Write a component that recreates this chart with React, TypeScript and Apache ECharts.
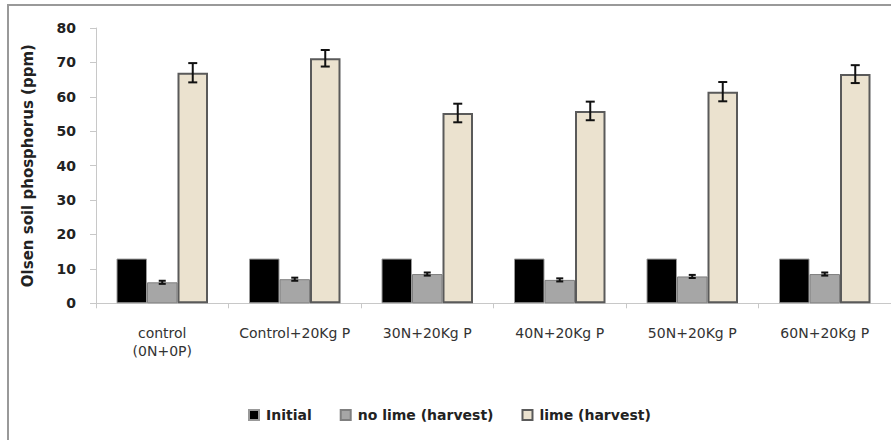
import React, { useEffect, useRef } from "react";
import * as echarts from "echarts";

const categories = ["control\n(0N+0P)", "Control+20Kg P", "30N+20Kg P", "40N+20Kg P", "50N+20Kg P", "60N+20Kg P"];
const seriesNames = ["Initial", "no lime (harvest)", "lime (harvest)"];
const initial = [13, 13, 13, 13, 13, 13];
const noLime = [6.1, 7.0, 8.5, 6.8, 7.8, 8.5];
const noLimeErr = [0.45, 0.45, 0.45, 0.45, 0.45, 0.45];
const lime = [67.0, 71.2, 55.3, 55.9, 61.5, 66.6];
const limeErr = [2.8, 2.4, 2.7, 2.7, 2.8, 2.6];
const yMin = 0;
const yMax = 80;
const yInterval = 10;

const FONT = "'DejaVu Sans', 'Open Sans', sans-serif";

export default function App() {
  const ref = useRef<HTMLDivElement>(null);
  useEffect(() => {
    if (!ref.current) return;
    const chart = echarts.init(ref.current, undefined, { renderer: "svg" });
    const errData = (vals: number[], errs: number[], seriesIdx: number) =>
      vals.map((v, i) => [i, v - errs[i], v + errs[i], seriesIdx]);
    const barW = 30.5;
    const renderErr = (capHalf: number) => (params: any, api: any) => {
      const i = api.value(0);
      const lo = api.coord([i, api.value(1)]);
      const hi = api.coord([i, api.value(2)]);
      const s = api.value(3);
      const x = lo[0] + (s - 1) * barW;
      const style = { stroke: "#111", lineWidth: 2 };
      return {
        type: "group",
        children: [
          { type: "line", shape: { x1: x, y1: hi[1], x2: x, y2: lo[1] }, style },
          { type: "line", shape: { x1: x - capHalf, y1: hi[1], x2: x + capHalf, y2: hi[1] }, style },
          { type: "line", shape: { x1: x - capHalf, y1: lo[1], x2: x + capHalf, y2: lo[1] }, style },
        ],
      };
    };
    chart.setOption({
      animation: false,
      backgroundColor: "#fff",
      graphic: [
        {
          type: "line",
          shape: { x1: 8, y1: 4, x2: 8, y2: 440 },
          style: { stroke: "#999", lineWidth: 2 },
          silent: true,
        },
        {
          type: "line",
          shape: { x1: 7, y1: 5, x2: 891, y2: 5 },
          style: { stroke: "#999", lineWidth: 2 },
          silent: true,
        },
      ],
      grid: { left: 96, top: 28, width: 795, height: 275.3, containLabel: false },
      legend: {
        left: 243,
        top: 403,
        itemWidth: 10,
        itemHeight: 10,
        itemGap: 28,
        icon: "rect",
        textStyle: { fontFamily: FONT, fontSize: 14, fontWeight: "bold", color: "#222", padding: [0, 0, 0, 2] },
        data: seriesNames,
      },
      xAxis: {
        type: "category",
        data: categories,
        axisLine: { lineStyle: { color: "#c8c8c8", width: 1 } },
        axisTick: { show: true, length: 5, lineStyle: { color: "#c8c8c8" } },
        axisLabel: {
          fontFamily: FONT,
          fontSize: 14,
          color: "#333",
          margin: 21,
          lineHeight: 18,
          interval: 0,
        },
      },
      yAxis: {
        type: "value",
        min: yMin,
        max: yMax,
        interval: yInterval,
        name: "Olsen soil phosphorus (ppm)",
        nameLocation: "middle",
        nameGap: 61,
        nameTextStyle: { fontFamily: FONT, fontSize: 15, fontWeight: "bold", color: "#222" },
        axisLine: { show: true, lineStyle: { color: "#c8c8c8" } },
        axisTick: { show: true, length: 6, lineStyle: { color: "#c8c8c8" } },
        splitLine: { show: false },
        axisLabel: { fontFamily: FONT, fontSize: 14, fontWeight: "bold", color: "#222", margin: 20 },
      },
      series: [
        {
          name: seriesNames[0],
          type: "bar",
          data: initial,
          barWidth: barW,
          barGap: "0%",
          itemStyle: { color: "#000", borderColor: "#999", borderWidth: 1 },
        },
        {
          name: seriesNames[1],
          type: "bar",
          data: noLime,
          barWidth: barW,
          barGap: "0%",
          itemStyle: { color: "#a6a6a6", borderColor: "#7f7f7f", borderWidth: 1 },
        },
        {
          name: seriesNames[2],
          type: "bar",
          data: lime,
          barWidth: barW,
          barGap: "0%",
          itemStyle: { color: "#ebe2cf", borderColor: "#5a5a5a", borderWidth: 2 },
        },
        {
          type: "custom",
          name: "errNoLime",
          renderItem: renderErr(3.5),
          data: errData(noLime, noLimeErr, 1),
          encode: { x: 0, y: [1, 2] },
          z: 5,
          silent: true,
        },
        {
          type: "custom",
          name: "errLime",
          renderItem: renderErr(4.5),
          data: errData(lime, limeErr, 2),
          encode: { x: 0, y: [1, 2] },
          z: 5,
          silent: true,
        },
      ],
    });
    return () => chart.dispose();
  }, []);
  return (
    <div
      ref={ref}
      style={{ position: "fixed", left: 0, top: 0, width: 891, height: 440 }}
    />
  );
}
